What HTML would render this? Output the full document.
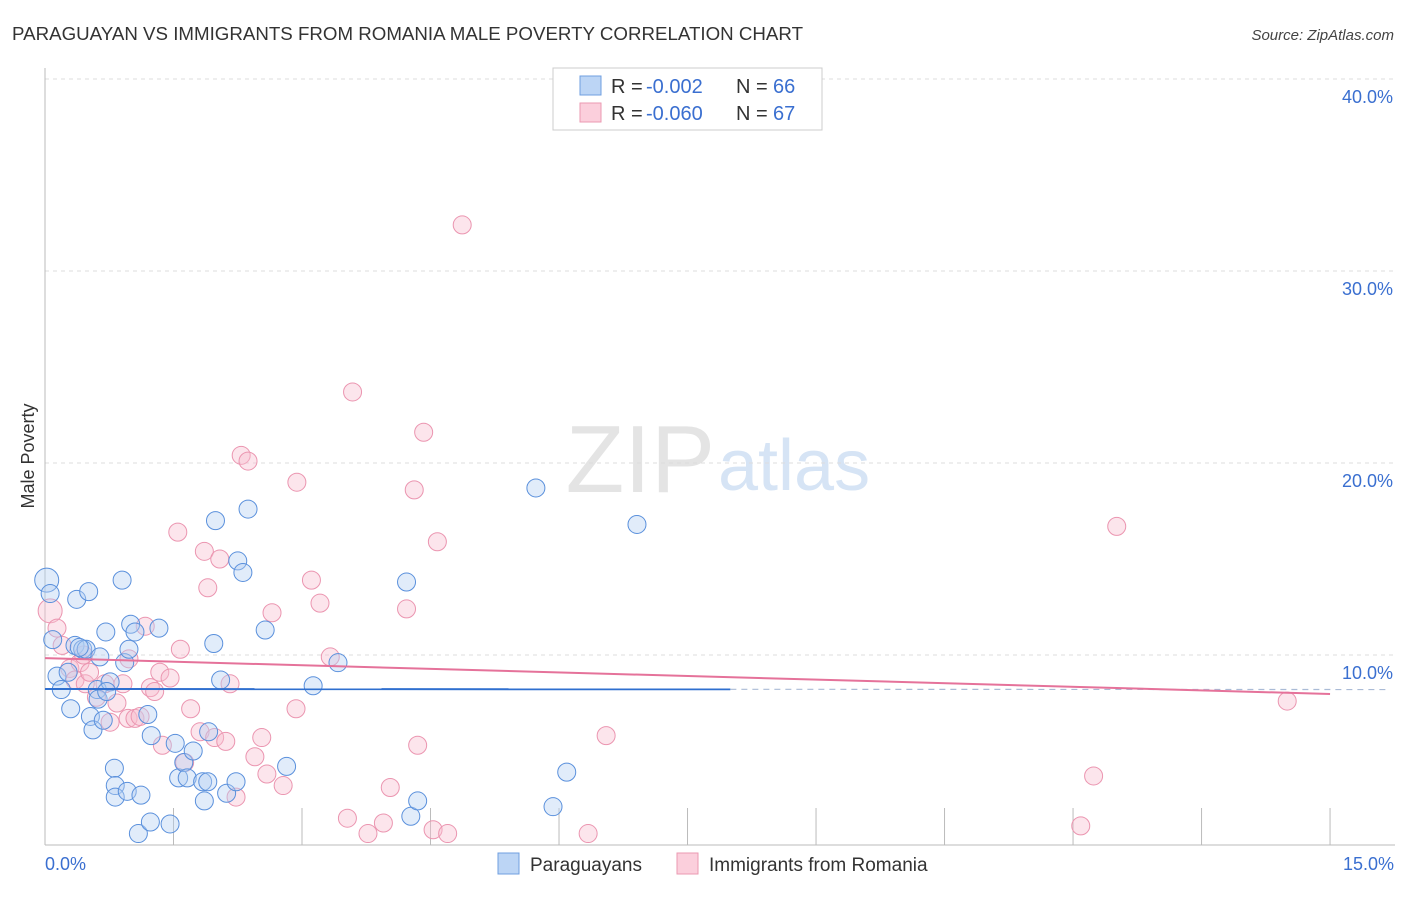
<!DOCTYPE html>
<html><head><meta charset="utf-8"><style>
body{margin:0;background:#fff;font-family:"Liberation Sans",sans-serif;}
svg text{font-family:"Liberation Sans",sans-serif;}
</style></head><body>
<svg id="chart" width="1406" height="892" xmlns="http://www.w3.org/2000/svg">
<text x="12" y="40" font-size="18" fill="#333" textLength="791" lengthAdjust="spacingAndGlyphs">PARAGUAYAN VS IMMIGRANTS FROM ROMANIA MALE POVERTY CORRELATION CHART</text>
<text x="1394" y="40" font-size="15" fill="#444" text-anchor="end" font-style="italic">Source: ZipAtlas.com</text>
<text x="715" y="492" font-size="96" fill="#e4e4e4" text-anchor="end" font-family="Liberation Serif">ZIP</text>
<text x="718" y="490" font-size="72" fill="#d6e4f5">atlas</text>
<g id="grid"></g>
<g id="axes"></g>
<g id="pts"></g>
<g id="lines"></g>
<text transform="translate(34,456) rotate(-90)" font-size="18" fill="#333" text-anchor="middle">Male Poverty</text>
<text x="45" y="870" font-size="18" fill="#3a6fd0">0.0%</text>
<text x="1394" y="870" font-size="18" fill="#3a6fd0" text-anchor="end">15.0%</text>
<g>
<rect x="553" y="68" width="269" height="62" fill="#fff" stroke="#ccc"/>
<rect x="580" y="76" width="21" height="19" fill="#bcd5f5" stroke="#6f9fe0"/>
<rect x="580" y="103" width="21" height="19" fill="#fbcfdc" stroke="#eb9ab2"/>
<text x="611" y="93" font-size="20" fill="#333">R =</text>
<text x="646" y="93" font-size="20" fill="#3a6fd0">-0.002</text>
<text x="736" y="93" font-size="20" fill="#333">N =</text>
<text x="773" y="93" font-size="20" fill="#3a6fd0">66</text>
<text x="611" y="120" font-size="20" fill="#333">R =</text>
<text x="646" y="120" font-size="20" fill="#3a6fd0">-0.060</text>
<text x="736" y="120" font-size="20" fill="#333">N =</text>
<text x="773" y="120" font-size="20" fill="#3a6fd0">67</text>
</g>
<g>
<rect x="498" y="853" width="21" height="21" fill="#bcd5f5" stroke="#6f9fe0"/>
<text x="530" y="871" font-size="19" fill="#333">Paraguayans</text>
<rect x="677" y="853" width="21" height="21" fill="#fbcfdc" stroke="#eb9ab2"/>
<text x="709" y="871" font-size="19" fill="#333">Immigrants from Romania</text>
</g>
</svg>
<script>
const yTicks=[10,20,30,40];
const blueX=[0.02,0.06,0.09,0.14,0.19,0.27,0.30,0.35,0.37,0.44,0.48,0.51,0.53,0.56,0.61,0.64,0.68,0.71,0.76,0.81,0.82,0.82,0.90,0.93,0.96,0.98,1.00,1.05,1.12,1.20,1.24,1.33,1.46,1.52,1.56,1.62,1.66,1.73,1.84,1.86,1.90,1.91,1.97,1.99,2.05,2.12,2.23,2.25,2.31,2.37,2.57,2.82,3.13,3.42,4.22,4.27,4.35,5.73,5.93,6.09,6.91,1.09,0.62,1.23,0.40,0.72];
const blueY=[13.9,13.2,10.8,8.9,8.2,9.1,7.2,10.5,12.9,10.3,10.3,13.3,6.8,6.1,8.2,9.9,6.6,11.2,8.6,4.1,3.2,2.6,13.9,9.6,2.9,10.3,11.6,11.2,2.7,6.9,5.8,11.4,1.2,5.4,3.6,4.4,3.6,5.0,3.4,2.4,3.4,6.0,10.6,17.0,8.7,2.8,3.4,14.9,14.3,17.6,11.3,4.2,8.4,9.6,13.8,1.6,2.4,18.7,2.1,3.9,16.8,0.7,7.7,1.3,10.4,8.1];
const pinkX=[0.06,0.14,0.20,0.29,0.35,0.41,0.47,0.52,0.60,0.70,0.76,0.84,0.91,0.97,1.05,1.11,1.17,1.23,1.28,1.37,1.34,1.46,1.55,1.58,1.63,1.70,1.81,1.86,1.90,1.98,2.04,2.11,2.16,2.23,2.29,2.37,2.45,2.53,2.59,2.65,2.78,2.93,2.94,3.11,3.21,3.33,3.53,3.59,3.77,3.95,4.03,4.22,4.31,4.35,4.42,4.53,4.58,4.70,4.87,6.34,6.55,12.09,12.24,12.51,14.50,0.45,0.98];
const pinkY=[12.3,11.4,10.5,9.3,8.7,9.6,8.5,9.1,7.8,8.5,6.5,7.5,8.5,6.7,6.7,6.8,11.5,8.3,8.1,5.3,9.1,8.8,16.4,10.3,4.4,7.2,6.0,15.4,13.5,5.7,15.0,5.5,8.5,2.6,20.4,20.1,4.7,5.7,3.8,12.2,3.2,7.2,19.0,13.9,12.7,9.9,1.5,23.7,0.7,1.25,3.1,12.4,18.6,5.3,21.6,0.9,15.9,0.7,32.4,0.7,5.8,1.1,3.7,16.7,7.6,10.0,9.8];
const blueTrend=[8.23,8.2];
const pinkTrend=[9.84,7.97];
const X=v=>45+v*85.67, Y=v=>847-v*19.2;
const ns="http://www.w3.org/2000/svg";
function mk(t,a,p){const e=document.createElementNS(ns,t);for(const k in a)e.setAttribute(k,a[k]);p.appendChild(e);return e;}
const grid=document.getElementById('grid');
yTicks.forEach(t=>{
 const l=mk('line',{x1:45,x2:1395,y1:Y(t),y2:Y(t),stroke:'#ddd','stroke-dasharray':'4,4'},grid);
 
 
 const tx=mk('text',{x:1393,y:Y(t)+24,'font-size':18,fill:'#3a6fd0','text-anchor':'end'},grid);
 tx.textContent=t.toFixed(1)+'%';
 
 
});
const ax=document.getElementById('axes');
mk('line',{x1:45,x2:45,y1:68,y2:845,stroke:'#bbb'},ax);
mk('line',{x1:45,x2:1395,y1:845,y2:845,stroke:'#bbb'},ax);
for(let k=1.5;k<=15.01;k+=1.5){const l=mk('line',{x1:X(k),x2:X(k),y1:808,y2:845,stroke:'#bbb'},ax);}
const pts=document.getElementById('pts');
function dots(xs,ys,f,s,n){xs.forEach((x,i)=>{const c=mk('circle',{cx:X(x),cy:Y(ys[i]),r:(i==0?12:9),fill:f,'fill-opacity':0.4,stroke:s,'stroke-width':1},pts);
 
 });}
dots(pinkX,pinkY,'#f7bfd0','#eb95b0','romania-point');
dots(blueX,blueY,'#b5d0f3','#5a90dc','paraguayan-point');
const lg=document.getElementById('lines');
const bm=blueTrend[0]+(blueTrend[1]-blueTrend[0])*8/15;
let l1=mk('line',{x1:X(0),x2:X(8),y1:Y(blueTrend[0]),y2:Y(bm),stroke:'#2f6fcf','stroke-width':2},lg);


let l2=mk('line',{x1:X(8),x2:X(15.7),y1:Y(bm),y2:Y(blueTrend[1]),stroke:'#aabbd6','stroke-width':1.2,'stroke-dasharray':'6,5'},lg);


let l3=mk('line',{x1:X(0),x2:X(15),y1:Y(pinkTrend[0]),y2:Y(pinkTrend[1]),stroke:'#e5729a','stroke-width':2},lg);


</script>
</body></html>
